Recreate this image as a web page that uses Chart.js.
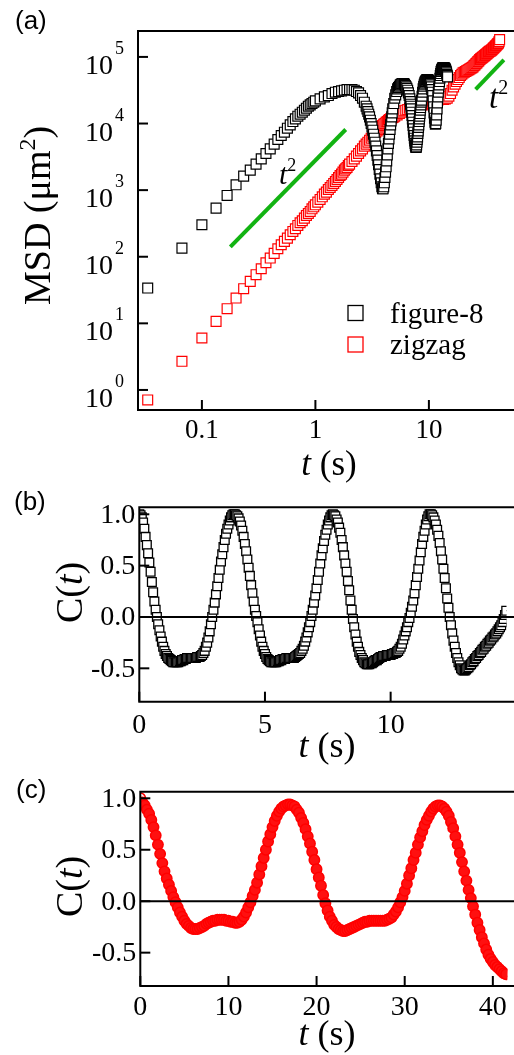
<!DOCTYPE html>
<html>
<head>
<meta charset="utf-8">
<title>MSD and velocity correlation</title>
<script src="https://cdn.jsdelivr.net/npm/chart.js@4.4.1/dist/chart.umd.min.js"></script>
<style>
  html, body { margin:0; padding:0; background:#fff; overflow:hidden; }
  .panel { position:absolute; left:0; width:514px; }
  #panelA { top:0;     height:490px; }
  #panelB { top:490px; height:280px; }
  #panelC { top:770px; height:285px; }
</style>
</head>
<body>
<div class="panel" id="panelA"><canvas id="msdCanvas"></canvas></div>
<div class="panel" id="panelB"><canvas id="fig8Canvas"></canvas></div>
<div class="panel" id="panelC"><canvas id="zigCanvas"></canvas></div>
<script>
/* ---------- (a) MSD as log10(MSD / µm²) ---------- */
const FPS = 30; // first second: one point per video frame

// figure-8, t = 1/30 ... 1 s
const FIG8_FIRST_SEC = [1.53,2.13,2.48,2.73,2.92,3.08,3.21,3.30,3.39,3.47,3.55,3.62,3.69,3.76,3.82,
  3.87,3.93,3.98,4.03,4.07,4.11,4.14,4.17,4.20,4.23,4.26,4.28,4.30,4.32,4.34];
// 1.1 ... 2.7 s, every 0.1 s
const FIG8_PEAK1 = [4.37,4.40,4.42,4.45,4.47,4.48,4.49,4.50,4.51,4.51,4.51,4.50,4.48,4.46,4.42,4.38,4.32];
// 2.80 ... 4.75 s, every 0.05 s
const FIG8_DIP1 = [4.26,4.22,4.18,4.14,4.10,4.05,4.00,3.95,3.90,3.84,3.78,3.72,3.66,3.59,3.52,3.45,3.38,3.31,3.24,3.17,
  3.11,3.05,3.02,3.02,3.05,3.11,3.19,3.27,3.35,3.44,3.53,3.62,3.70,3.77,3.84,3.91,3.98,4.04,4.10,4.16];
// 4.8 ... 6.7 s, every 0.1 s
const FIG8_PEAK2 = [4.22,4.30,4.38,4.43,4.48,4.52,4.54,4.56,4.58,4.59,4.60,4.60,4.60,4.59,4.57,4.55,4.53,4.50,4.46,4.42];
// 6.80 ... 8.55 s, every 0.05 s
const FIG8_DIP2 = [4.37,4.33,4.29,4.26,4.22,4.17,4.12,4.07,4.02,3.97,3.92,3.87,3.82,3.78,3.74,3.70,3.67,3.65,3.64,3.65,
  3.68,3.72,3.76,3.80,3.85,3.89,3.94,3.98,4.03,4.07,4.11,4.15,4.20,4.24,4.28,4.32];
// 8.6 ... 14.6 s, every 0.1 s
const FIG8_TAIL = [4.35,4.41,4.47,4.52,4.56,4.59,4.61,4.63,4.64,4.65,4.66,4.66,4.66,4.65,4.64,4.63,4.62,4.60,4.58,4.55,
  4.51,4.47,4.42,4.34,4.25,4.16,4.08,4.02,3.99,4.00,4.05,4.13,4.22,4.31,4.40,4.47,4.53,4.58,4.63,4.68,
  4.72,4.75,4.78,4.80,4.81,4.82,4.83,4.84,4.84,4.84,4.84,4.83,4.83,4.82,4.81,4.80,4.78,4.76,4.74,4.72,4.70];

// zigzag, t = 1/30 ... 1 s
const ZIG_FIRST_SEC = [-0.15,0.43,0.78,1.03,1.22,1.38,1.52,1.63,1.73,1.82,1.91,1.98,2.05,2.12,2.18,
  2.23,2.28,2.33,2.38,2.42,2.47,2.51,2.54,2.58,2.62,2.65,2.68,2.72,2.75,2.78];
// 1.05 ... 2.00 s, every 0.05 s
const ZIG_RISE1 = [2.82,2.86,2.90,2.94,2.97,3.01,3.04,3.07,3.10,3.13,3.16,3.19,3.22,3.24,3.27,3.30,3.32,3.34,3.37,3.39];
// 2.1 ... 5.0 s, every 0.1 s
const ZIG_RISE2 = [3.43,3.47,3.51,3.55,3.59,3.62,3.66,3.69,3.72,3.75,3.78,3.81,3.84,3.87,3.89,
  3.91,3.93,3.95,3.97,3.99,4.00,4.02,4.03,4.05,4.06,4.07,4.08,4.09,4.10,4.11];
// 5.25 ... 12.0 s, every 0.25 s
const ZIG_PLATEAU = [4.13,4.15,4.17,4.19,4.20,4.21,4.23,4.24,4.25,4.25,4.26,4.27,4.27,4.28,
  4.28,4.29,4.29,4.30,4.31,4.31,4.32,4.33,4.33,4.34,4.34,4.35,4.35,4.35];
// 12.5 ... 42.0 s, every 0.5 s
const ZIG_TAIL = [4.36,4.36,4.36,4.37,4.38,4.41,4.45,4.50,4.55,4.59,4.63,4.66,4.69,4.72,4.74,4.76,4.77,4.78,4.79,4.80,
  4.81,4.82,4.83,4.84,4.85,4.87,4.88,4.90,4.91,4.93,4.94,4.96,4.97,4.98,4.99,5.00,5.01,5.02,5.03,5.04,
  5.05,5.06,5.07,5.08,5.09,5.09,5.10,5.11,5.12,5.13,5.14,5.15,5.16,5.17,5.18,5.19,5.20,5.21,5.23,5.26];

// green t² guides (end points, t in s, MSD in µm²)
const GUIDE1_T = [0.178, 1.85],  GUIDE1_MSD = [141, 8130];
const GUIDE2_T = [25.8, 45.8],   GUIDE2_MSD = [32600, 90100];

const MSD_X_TICKS = [0.1, 1, 10];
const MSD_X_LABELS = ['0.1', '1', '10'];
const MSD_Y_EXPONENTS = [0, 1, 2, 3, 4, 5];

/* ---------- (b) C(t) figure-8, every 0.05 s from 0 to 14.6 s ---------- */
const FIG8_C_DT = 0.05;
const FIG8_C = [
  1.00,0.99,0.97,0.92,0.86,0.78,0.70,0.62,0.53,0.44,0.34,0.24,0.15,0.07,0.00,-0.07,-0.13,-0.19,-0.24,-0.29,
  -0.33,-0.36,-0.38,-0.40,-0.41,-0.42,-0.43,-0.44,-0.44,-0.44,-0.44,-0.44,-0.43,-0.43,-0.42,-0.42,-0.41,-0.41,-0.40,-0.40,
  -0.40,-0.40,-0.40,-0.40,-0.40,-0.40,-0.39,-0.39,-0.39,-0.38,-0.37,-0.35,-0.33,-0.29,-0.25,-0.20,-0.14,-0.07,0.00,0.07,
  0.14,0.22,0.30,0.38,0.46,0.54,0.61,0.68,0.75,0.81,0.86,0.90,0.94,0.97,0.99,1.00,1.00,0.99,0.98,0.96,
  0.93,0.89,0.84,0.78,0.71,0.64,0.56,0.48,0.40,0.31,0.23,0.15,0.07,0.01,-0.05,-0.12,-0.18,-0.24,-0.29,-0.33,
  -0.36,-0.39,-0.41,-0.42,-0.43,-0.44,-0.44,-0.44,-0.44,-0.44,-0.43,-0.43,-0.42,-0.42,-0.41,-0.41,-0.41,-0.40,-0.40,-0.40,
  -0.40,-0.40,-0.40,-0.40,-0.39,-0.38,-0.37,-0.36,-0.35,-0.33,-0.31,-0.28,-0.24,-0.20,-0.15,-0.10,-0.05,0.01,0.07,0.14,
  0.21,0.28,0.36,0.44,0.52,0.60,0.67,0.74,0.80,0.85,0.90,0.94,0.97,0.99,1.00,0.99,0.98,0.95,0.92,0.87,
  0.82,0.75,0.68,0.60,0.52,0.44,0.35,0.26,0.16,0.07,-0.02,-0.10,-0.17,-0.24,-0.29,-0.34,-0.37,-0.40,-0.42,-0.44,
  -0.45,-0.46,-0.46,-0.46,-0.45,-0.45,-0.44,-0.43,-0.42,-0.42,-0.41,-0.40,-0.39,-0.39,-0.38,-0.38,-0.38,-0.37,-0.37,-0.37,
  -0.37,-0.36,-0.36,-0.35,-0.35,-0.34,-0.33,-0.31,-0.29,-0.26,-0.22,-0.18,-0.14,-0.10,-0.05,-0.01,0.04,0.10,0.16,0.23,
  0.31,0.39,0.47,0.55,0.63,0.71,0.78,0.84,0.90,0.95,0.98,1.00,1.00,0.99,0.97,0.94,0.90,0.85,0.79,0.72,
  0.64,0.56,0.47,0.38,0.28,0.18,0.09,0.00,-0.08,-0.16,-0.23,-0.29,-0.35,-0.40,-0.44,-0.47,-0.50,-0.51,-0.52,-0.52,
  -0.51,-0.50,-0.49,-0.47,-0.46,-0.44,-0.43,-0.41,-0.40,-0.38,-0.37,-0.35,-0.34,-0.32,-0.31,-0.29,-0.28,-0.26,-0.25,-0.23,
  -0.22,-0.20,-0.19,-0.17,-0.16,-0.14,-0.12,-0.10,-0.08,-0.05,-0.02,0.02,0.06];
const FIG8_X_TICKS = [0, 5, 10];

/* ---------- (c) C(t) zigzag, every 0.25 s from 0 to 41.5 s ---------- */
const ZIG_C_DT = 0.25;
const ZIG_C = [
  1.00,0.96,0.93,0.89,0.85,0.79,0.72,0.64,  0.55,0.46,0.37,0.29,0.22,0.16,0.10,0.04,
  -0.01,-0.06,-0.11,-0.15,-0.19,-0.22,-0.24,-0.26,  -0.27,-0.27,-0.27,-0.26,-0.25,-0.24,-0.22,-0.21,
  -0.20,-0.19,-0.19,-0.18,-0.18,-0.18,-0.18,-0.19,  -0.19,-0.20,-0.20,-0.21,-0.21,-0.20,-0.18,-0.15,
  -0.11,-0.06,-0.01,0.05,0.11,0.18,0.26,0.34,  0.42,0.50,0.58,0.65,0.72,0.78,0.83,0.87,
  0.90,0.92,0.93,0.94,0.94,0.93,0.92,0.89,  0.86,0.81,0.76,0.70,0.63,0.56,0.48,0.40,
  0.31,0.23,0.15,0.06,-0.02,-0.09,-0.15,-0.19,  -0.23,-0.25,-0.27,-0.28,-0.29,-0.29,-0.28,-0.27,
  -0.26,-0.25,-0.24,-0.23,-0.22,-0.21,-0.20,-0.20,  -0.19,-0.19,-0.19,-0.19,-0.19,-0.19,-0.19,-0.19,
  -0.18,-0.17,-0.16,-0.13,-0.10,-0.06,-0.01,0.04,  0.10,0.17,0.25,0.32,0.40,0.47,0.55,0.62,
  0.68,0.74,0.79,0.83,0.87,0.90,0.92,0.93,  0.93,0.92,0.90,0.87,0.83,0.77,0.71,0.63,
  0.55,0.47,0.38,0.29,0.20,0.11,0.03,-0.05,  -0.13,-0.21,-0.28,-0.35,-0.41,-0.47,-0.52,-0.56,
  -0.59,-0.62,-0.64,-0.66,-0.68,-0.70,-0.71];
const ZIG_X_TICKS = [0, 10, 20, 30, 40];

const C_Y_TICKS = [1, 0.5, 0, -0.5];
const C_Y_LABELS = ['1.0', '0.5', '0.0', '-0.5'];

/* ---------- helpers ---------- */
const SERIF = '"Liberation Serif", "Times New Roman", serif';
const SANS  = '"Liberation Sans", Arial, sans-serif';
const GREEN = '#12b312';

function sampledLog(t0, dt, logVals) {
  return logVals.map((v, i) => ({ x: +(t0 + i * dt).toFixed(4), y: Math.pow(10, v) }));
}
function sampledLin(dt, vals) {
  return vals.map((v, i) => ({ x: +(i * dt).toFixed(4), y: v }));
}
function line(ctx, x1, y1, x2, y2) {
  ctx.beginPath(); ctx.moveTo(x1, y1); ctx.lineTo(x2, y2); ctx.stroke();
}
function frame(ctx, a, w) {
  ctx.beginPath();
  ctx.moveTo(w + 2, a.top); ctx.lineTo(a.left, a.top);
  ctx.lineTo(a.left, a.bottom); ctx.lineTo(w + 2, a.bottom);
  ctx.stroke();
}
// runs: [text, font, dy]
function drawRuns(ctx, x, y, runs, align) {
  let w = 0;
  runs.forEach(r => { ctx.font = r[1]; w += ctx.measureText(r[0]).width; });
  let cx = align === 'center' ? x - w / 2 : align === 'right' ? x - w : x;
  ctx.textAlign = 'left';
  ctx.textBaseline = 'alphabetic';
  runs.forEach(r => {
    ctx.font = r[1];
    ctx.fillText(r[0], cx, y + (r[2] || 0));
    cx += ctx.measureText(r[0]).width;
  });
}

const fig8Msd = [
  ...sampledLog(1 / FPS, 1 / FPS, FIG8_FIRST_SEC),
  ...sampledLog(1.1, 0.1, FIG8_PEAK1),
  ...sampledLog(2.8, 0.05, FIG8_DIP1),
  ...sampledLog(4.8, 0.1, FIG8_PEAK2),
  ...sampledLog(6.8, 0.05, FIG8_DIP2),
  ...sampledLog(8.6, 0.1, FIG8_TAIL),
];
const zigMsd = [
  ...sampledLog(1 / FPS, 1 / FPS, ZIG_FIRST_SEC),
  ...sampledLog(1.05, 0.05, ZIG_RISE1),
  ...sampledLog(2.1, 0.1, ZIG_RISE2),
  ...sampledLog(5.25, 0.25, ZIG_PLATEAU),
  ...sampledLog(12.5, 0.5, ZIG_TAIL),
];
const guide1 = GUIDE1_T.map((t, i) => ({ x: t, y: GUIDE1_MSD[i] }));
const guide2 = GUIDE2_T.map((t, i) => ({ x: t, y: GUIDE2_MSD[i] }));

/* ---------- (a) axes, labels, legend ---------- */
const msdDecor = {
  id: 'msdDecor',
  afterDatasetsDraw(chart) {
    const { ctx, chartArea: a, scales: { x, y } } = chart;
    ctx.save();
    ctx.strokeStyle = '#000'; ctx.fillStyle = '#000'; ctx.lineWidth = 2;
    frame(ctx, a, chart.width);

    MSD_Y_EXPONENTS.forEach(e => {
      const py = y.getPixelForValue(Math.pow(10, e));
      line(ctx, a.left, py, a.left + 10, py);
      ctx.textBaseline = 'alphabetic';
      ctx.font = '28px ' + SERIF; ctx.textAlign = 'right';
      ctx.fillText('10', 113, py + 17);
      ctx.font = '18px ' + SERIF; ctx.textAlign = 'left';
      ctx.fillText(String(e), 115, py - 3);
    });
    MSD_X_TICKS.forEach((v, i) => {
      const px = x.getPixelForValue(v);
      line(ctx, px, a.bottom, px, a.bottom - 10);
      ctx.font = '27px ' + SERIF; ctx.textAlign = 'center'; ctx.textBaseline = 'alphabetic';
      ctx.fillText(MSD_X_LABELS[i], px, 438);
    });

    drawRuns(ctx, 329, 475, [['t', 'italic 35px ' + SERIF], [' (s)', '35px ' + SERIF]], 'center');

    ctx.save();
    ctx.translate(50, 305); ctx.rotate(-Math.PI / 2);
    drawRuns(ctx, 0, 0, [['MSD (\u03bcm', '38px ' + SERIF], ['2', '24px ' + SERIF, -15], [')', '38px ' + SERIF]], 'left');
    ctx.restore();

    // t² labels next to the guides
    drawRuns(ctx, 279, 184, [['t', 'italic 30px ' + SERIF], ['2', '18px ' + SERIF, -13]], 'left');
    drawRuns(ctx, 489, 108, [['t', 'italic 33px ' + SERIF], ['2', '20px ' + SERIF, -14]], 'left');

    // legend
    ctx.lineWidth = 1.3;
    ctx.fillStyle = '#fff';
    ctx.strokeStyle = '#000'; ctx.fillRect(348, 305.5, 15, 15); ctx.strokeRect(348, 305.5, 15, 15);
    ctx.strokeStyle = '#ff0000'; ctx.fillRect(348, 337, 15, 15); ctx.strokeRect(348, 337, 15, 15);
    ctx.fillStyle = '#000';
    drawRuns(ctx, 390, 323, [['figure-8', '29px ' + SERIF]], 'left');
    drawRuns(ctx, 390, 354, [['zigzag', '29px ' + SERIF]], 'left');

    drawRuns(ctx, 15, 29, [['(a)', '26px ' + SANS]], 'left');
    ctx.restore();
  }
};

/* ---------- (b), (c) axes ---------- */
function corrDecor(opt) {
  return {
    id: 'corrDecor',
    afterDatasetsDraw(chart) {
      const { ctx, chartArea: a, scales: { x, y } } = chart;
      ctx.save();
      ctx.translate(0, -opt.top);
      const area = { left: a.left, top: a.top + opt.top, bottom: a.bottom + opt.top, right: a.right };
      ctx.strokeStyle = '#000'; ctx.fillStyle = '#000'; ctx.lineWidth = 2;
      const y0 = y.getPixelForValue(0) + opt.top;
      line(ctx, area.left, y0, chart.width, y0);
      frame(ctx, area, chart.width);

      C_Y_TICKS.forEach((v, i) => {
        const py = y.getPixelForValue(v) + opt.top;
        line(ctx, area.left, py, area.left + 10, py);
        ctx.font = '28px ' + SERIF; ctx.textAlign = 'right'; ctx.textBaseline = 'middle';
        ctx.fillText(C_Y_LABELS[i], area.left - 4, py + 1);
      });
      opt.xTicks.forEach(v => {
        const px = x.getPixelForValue(v);
        line(ctx, px, area.bottom, px, area.bottom - 10);
        ctx.font = '28px ' + SERIF; ctx.textAlign = 'center'; ctx.textBaseline = 'alphabetic';
        ctx.fillText(String(v), px, opt.tickBase);
      });

      drawRuns(ctx, 327, opt.titleBase, [['t', 'italic 36px ' + SERIF], [' (s)', '36px ' + SERIF]], 'center');

      ctx.save();
      ctx.translate(82, opt.yTitleStart); ctx.rotate(-Math.PI / 2);
      drawRuns(ctx, 0, 0, [['C(', '38px ' + SERIF], ['t', 'italic 38px ' + SERIF], [')', '38px ' + SERIF]], 'left');
      ctx.restore();

      drawRuns(ctx, opt.labelX, opt.labelBase, [[opt.label, '26px ' + SANS]], 'left');
      ctx.restore();
    }
  };
}

const common = {
  responsive: true, maintainAspectRatio: false, animation: false, events: [],
  plugins: { legend: { display: false }, tooltip: { enabled: false } },
};

new Chart(document.getElementById('msdCanvas'), {
  type: 'scatter',
  data: {
    datasets: [
      { label: 'figure-8', data: fig8Msd, pointStyle: 'rect', pointRadius: 7, borderWidth: 1.2,
        borderColor: '#000', backgroundColor: '#fff' },
      { label: 'zigzag', data: zigMsd, pointStyle: 'rect', pointRadius: 7, borderWidth: 1.2,
        borderColor: '#ff0000', backgroundColor: '#fff' },
      { type: 'line', data: guide1, borderColor: GREEN, borderWidth: 4, pointRadius: 0, borderCapStyle: 'butt' },
      { type: 'line', data: guide2, borderColor: GREEN, borderWidth: 4, pointRadius: 0, borderCapStyle: 'butt' },
    ]
  },
  options: {
    ...common,
    layout: { padding: { left: 138, top: 31, right: 0, bottom: 80 } },
    scales: {
      x: { type: 'logarithmic', min: 0.02735, max: 47.6, display: false },
      y: { type: 'logarithmic', min: 0.5, max: 2.45e5, display: false },
    }
  },
  plugins: [msdDecor]
});

new Chart(document.getElementById('fig8Canvas'), {
  type: 'scatter',
  data: {
    datasets: [{ label: 'figure-8', data: sampledLin(FIG8_C_DT, FIG8_C), pointStyle: 'rect', pointRadius: 6.2,
      borderWidth: 1.3, borderColor: '#000', backgroundColor: '#fff' }]
  },
  options: {
    ...common,
    layout: { padding: { left: 139.3, top: 17.3, right: 0, bottom: 68.3 } },
    scales: {
      x: { type: 'linear', min: 0, max: 14.61, display: false },
      y: { type: 'linear', min: -0.825, max: 1.068, display: false },
    }
  },
  plugins: [corrDecor({ top: 490, xTicks: FIG8_X_TICKS, tickBase: 733, titleBase: 757,
    yTitleStart: 623, label: '(b)', labelX: 14, labelBase: 510 })]
});

new Chart(document.getElementById('zigCanvas'), {
  type: 'scatter',
  data: {
    datasets: [{ label: 'zigzag', data: sampledLin(ZIG_C_DT, ZIG_C), pointStyle: 'circle', pointRadius: 5.2,
      borderWidth: 1.5, borderColor: '#ff0000',
      backgroundColor: c => c.dataIndex === 0 ? '#fff' : '#ff1010' }]
  },
  options: {
    ...common,
    layout: { padding: { left: 140.3, top: 21.7, right: 0, bottom: 69 } },
    scales: {
      x: { type: 'linear', min: 0, max: 41.64, display: false },
      y: { type: 'linear', min: -0.824, max: 1.064, display: false },
    }
  },
  plugins: [corrDecor({ top: 770, xTicks: ZIG_X_TICKS, tickBase: 1015, titleBase: 1045,
    yTitleStart: 917, label: '(c)', labelX: 16, labelBase: 798 })]
});
</script>
</body>
</html>
